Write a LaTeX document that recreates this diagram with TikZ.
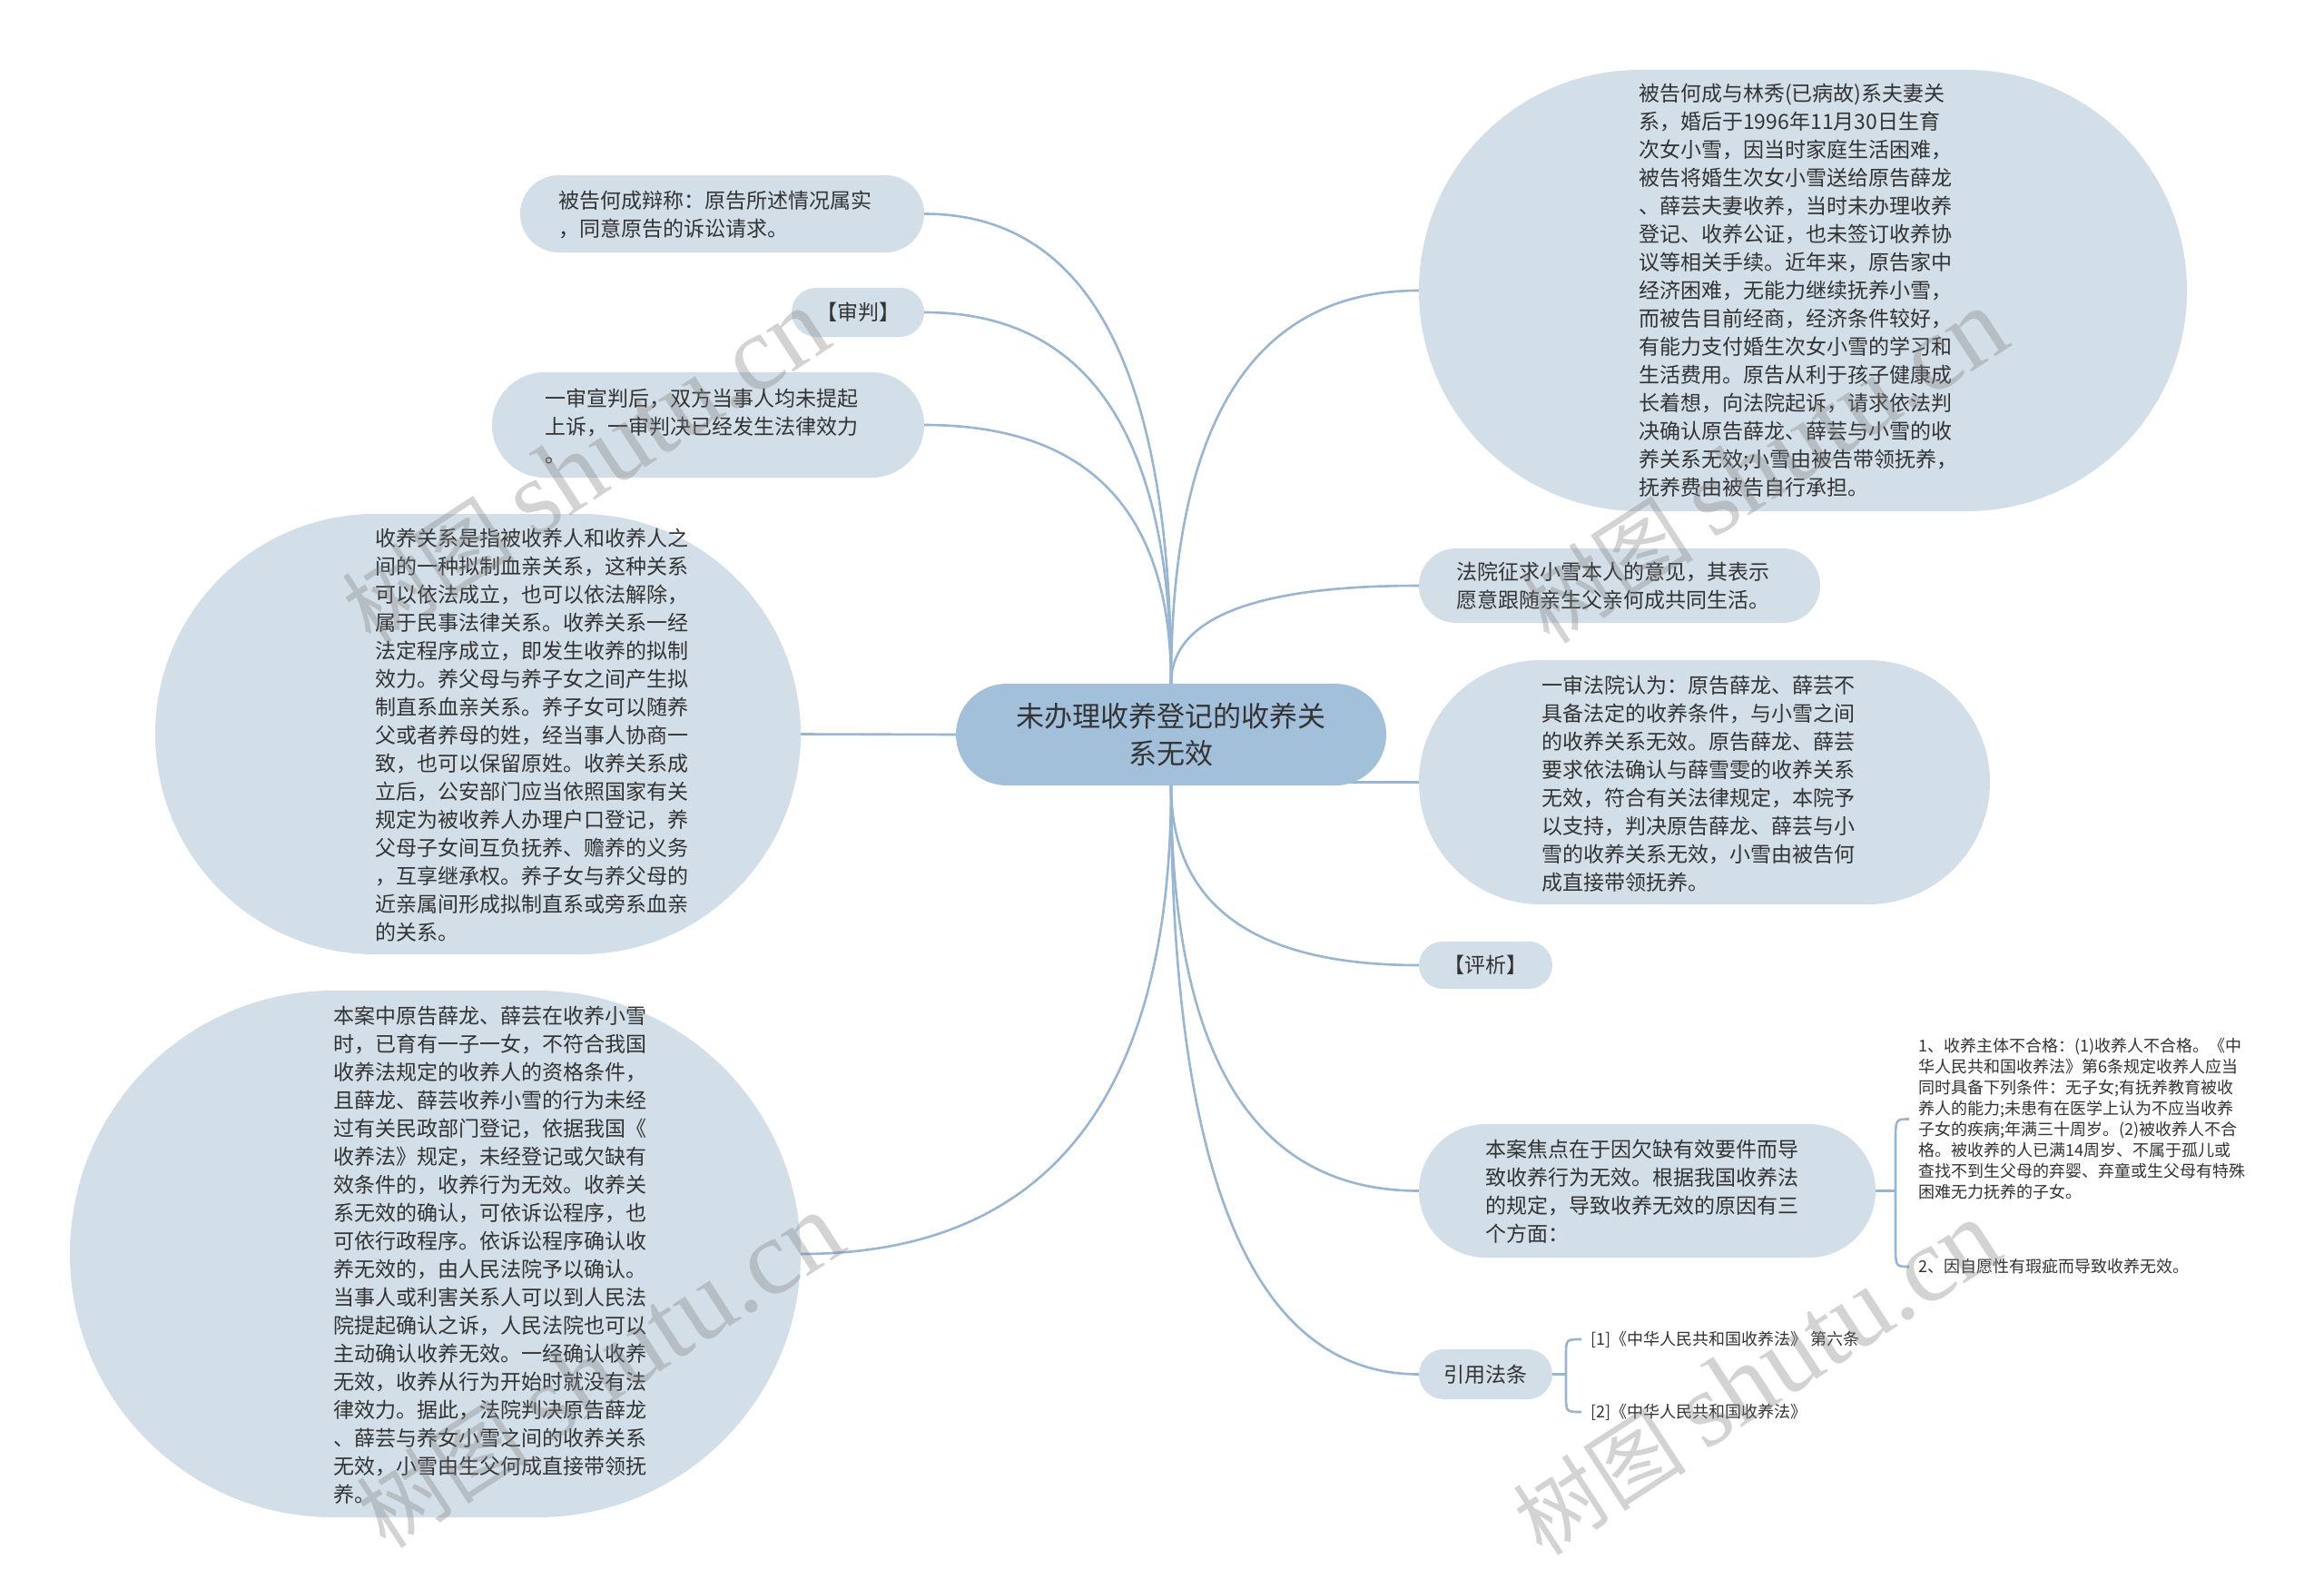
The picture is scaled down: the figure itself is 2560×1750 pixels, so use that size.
\documentclass[tikz,border=0pt]{standalone}
\usepackage{fontspec}
\newfontfamily\cjk{Noto Sans CJK SC}
\newfontfamily\wmlatin{Liberation Serif}
\usepackage{tikz}
\usetikzlibrary{
  positioning,
  calc,
  shapes.misc,
  backgrounds
}
\definecolor{RootBlue}{RGB}{163,192,219}
\definecolor{LeafBlue}{RGB}{211,223,232}
\definecolor{LinkBlue}{RGB}{152,182,210}
\definecolor{TextGray}{RGB}{51,51,51}

\begin{document}
\begin{tikzpicture}[x=1pt,y=-1pt,
  bubble/.style={rounded rectangle, fill=LeafBlue, inner sep=0pt},
  rootbox/.style={rounded rectangle, fill=RootBlue, inner sep=0pt,
    text=TextGray, align=center, font=\cjk\fontsize{31}{41}\selectfont},
  txt/.style={anchor=west, inner sep=0pt, align=left, text=TextGray,
    font=\cjk\fontsize{23}{31}\selectfont},
  small/.style={anchor=west, inner sep=0pt, align=left, text=TextGray,
    font=\cjk\fontsize{18}{23}\selectfont},
  link/.style={LinkBlue, line width=2.6pt},
  wmark/.style={rotate=33, text=gray, opacity=0.34,
    font=\cjk\fontsize{96}{96}\selectfont}]
  \useasboundingbox (0,0) rectangle (2560,1750);

  % ---------- 中心主题 ----------
  \node[rootbox, minimum width=474, minimum height=112] (root) at (1290,809)
    {未办理收养登记的收养关\\系无效};

  % ---------- 左侧分支 ----------
  \node[bubble, minimum width=445, minimum height=85] (dabian) at (795.5,235.5) {};
  \node[txt] (dabian-t) at (615,236.5)
    {被告何成辩称：原告所述情况属实\\，同意原告的诉讼请求。};

  \node[bubble, minimum width=146, minimum height=54] (shenpan) at (945,344)
    {\color{TextGray}\cjk\fontsize{23}{31}\selectfont 【审判】};

  \node[bubble, minimum width=476, minimum height=116] (xuanpan) at (780,468) {};
  \node[txt] (xuanpan-t) at (600,469)
    {一审宣判后，双方当事人均未提起\\上诉，一审判决已经发生法律效力\\。};

  \node[bubble, minimum width=711, minimum height=485] (guanxi) at (526.5,808.5) {};
  \node[txt] (guanxi-t) at (413,810)
    {收养关系是指被收养人和收养人之\\间的一种拟制血亲关系，这种关系\\
     可以依法成立，也可以依法解除，\\属于民事法律关系。收养关系一经\\
     法定程序成立，即发生收养的拟制\\效力。养父母与养子女之间产生拟\\
     制直系血亲关系。养子女可以随养\\父或者养母的姓，经当事人协商一\\
     致，也可以保留原姓。收养关系成\\立后，公安部门应当依照国家有关\\
     规定为被收养人办理户口登记，养\\父母子女间互负抚养、赡养的义务\\
     ，互享继承权。养子女与养父母的\\近亲属间形成拟制直系或旁系血亲\\
     的关系。};

  \node[bubble, minimum width=805, minimum height=580] (benan) at (479.5,1381) {};
  \node[txt] (benan-t) at (367,1382.5)
    {本案中原告薛龙、薛芸在收养小雪\\时，已育有一子一女，不符合我国\\
     收养法规定的收养人的资格条件，\\且薛龙、薛芸收养小雪的行为未经\\
     过有关民政部门登记，依据我国《\\收养法》规定，未经登记或欠缺有\\
     效条件的，收养行为无效。收养关\\系无效的确认，可依诉讼程序，也\\
     可依行政程序。依诉讼程序确认收\\养无效的，由人民法院予以确认。\\
     当事人或利害关系人可以到人民法\\院提起确认之诉，人民法院也可以\\
     主动确认收养无效。一经确认收养\\无效，收养从行为开始时就没有法\\
     律效力。据此，法院判决原告薛龙\\、薛芸与养女小雪之间的收养关系\\
     无效，小雪由生父何成直接带领抚\\养。};

  % ---------- 右侧分支 ----------
  \node[bubble, minimum width=846, minimum height=486] (beigao) at (1986,320) {};
  \node[txt] (beigao-t) at (1805,320)
    {被告何成与林秀(已病故)系夫妻关\\系，婚后于1996年11月30日生育\\
     次女小雪，因当时家庭生活困难，\\被告将婚生次女小雪送给原告薛龙\\
     、薛芸夫妻收养，当时未办理收养\\登记、收养公证，也未签订收养协\\
     议等相关手续。近年来，原告家中\\经济困难，无能力继续抚养小雪，\\
     而被告目前经商，经济条件较好，\\有能力支付婚生次女小雪的学习和\\
     生活费用。原告从利于孩子健康成\\长着想，向法院起诉，请求依法判\\
     决确认原告薛龙、薛芸与小雪的收\\养关系无效;小雪由被告带领抚养，\\
     抚养费由被告自行承担。};

  \node[bubble, minimum width=442, minimum height=82] (yijian) at (1784,645) {};
  \node[txt] (yijian-t) at (1604,645)
    {法院征求小雪本人的意见，其表示\\愿意跟随亲生父亲何成共同生活。};

  \node[bubble, minimum width=629, minimum height=269] (yishen) at (1877.5,861.5) {};
  \node[txt] (yishen-t) at (1698,863)
    {一审法院认为：原告薛龙、薛芸不\\具备法定的收养条件，与小雪之间\\
     的收养关系无效。原告薛龙、薛芸\\要求依法确认与薛雪雯的收养关系\\
     无效，符合有关法律规定，本院予\\以支持，判决原告薛龙、薛芸与小\\
     雪的收养关系无效，小雪由被告何\\成直接带领抚养。};

  \node[bubble, minimum width=147, minimum height=52] (pingxi) at (1636.5,1063)
    {\color{TextGray}\cjk\fontsize{23}{31}\selectfont 【评析】};

  \node[bubble, minimum width=503, minimum height=147] (jiaodian) at (1814.5,1311.5) {};
  \node[txt] (jiaodian-t) at (1636,1312.5)
    {本案焦点在于因欠缺有效要件而导\\致收养行为无效。根据我国收养法\\
     的规定，导致收养无效的原因有三\\个方面：};

  \node[bubble, minimum width=147, minimum height=55] (fatiao) at (1636.5,1513.5)
    {\color{TextGray}\cjk\fontsize{23}{31}\selectfont 引用法条};

  % 三级节点（无底色）
  \node[small] (zhuti) at (2113,1232.5)
    {1、收养主体不合格：(1)收养人不合格。《中\\华人民共和国收养法》第6条规定收养人应当\\
     同时具备下列条件：无子女;有抚养教育被收\\养人的能力;未患有在医学上认为不应当收养\\
     子女的疾病;年满三十周岁。(2)被收养人不合\\格。被收养的人已满14周岁、不属于孤儿或\\
     查找不到生父母的弃婴、弃童或生父母有特殊\\困难无力抚养的子女。};
  \node[small] (ziyuan) at (2113,1395) {2、因自愿性有瑕疵而导致收养无效。};
  \node[small] (fa1) at (1752,1475) {[1]《中华人民共和国收养法》 第六条};
  \node[small] (fa2) at (1752,1555) {[2]《中华人民共和国收养法》};

  \coordinate (jmid) at (2088,1311.5);
  \coordinate (kmid) at (1725,1513.5);

  % ---------- 连线（放在底层）----------
  \begin{scope}[on background layer]
    \fill[white] (0,0) rectangle (2560,1750);
    \foreach \n/\a in {dabian/east,shenpan/east,xuanpan/east,beigao/west,yijian/west}
      \draw[link] (root.north)
        .. controls ($(root.north)!2/3!(root.north |- \n.\a)$)
        and ($(\n.\a)!2/3!(root.north |- \n.\a)$) .. (\n.\a);
    \foreach \n/\a in {benan/east,pingxi/west,jiaodian/west,fatiao/west}
      \draw[link] (root.south)
        .. controls ($(root.south)!2/3!(root.south |- \n.\a)$)
        and ($(\n.\a)!2/3!(root.south |- \n.\a)$) .. (\n.\a);
    \draw[link] (guanxi.east) -- (root.west);
    \draw[link] (yishen.west) -- (yishen.west -| root.center);

    % 括号
    \draw[link] (jiaodian.east) -- (jmid);
    \draw[link] ($(zhuti.west)+(-10,0)$) .. controls (zhuti.west -| jmid)
      .. ($(zhuti.west -| jmid)+(0,24)$) -- ($(ziyuan.west -| jmid)+(0,-24)$)
      .. controls (ziyuan.west -| jmid) .. ($(ziyuan.west)+(-10,0)$);
    \draw[link] (fatiao.east) -- (kmid);
    \draw[link] ($(fa1.west)+(-10,0)$) .. controls (fa1.west -| kmid)
      .. ($(fa1.west -| kmid)+(0,18)$) -- ($(fa2.west -| kmid)+(0,-18)$)
      .. controls (fa2.west -| kmid) .. ($(fa2.west)+(-10,0)$);
  \end{scope}

  % ---------- 水印 ----------
  \foreach \p [count=\i] in {(645,514),(1943,514),(661,1510),(1935,1518)}
    \node[wmark] (wm\i) at \p {树图 {\wmlatin\fontsize{118}{118}\selectfont shutu.cn}};
\end{tikzpicture}
\end{document}
